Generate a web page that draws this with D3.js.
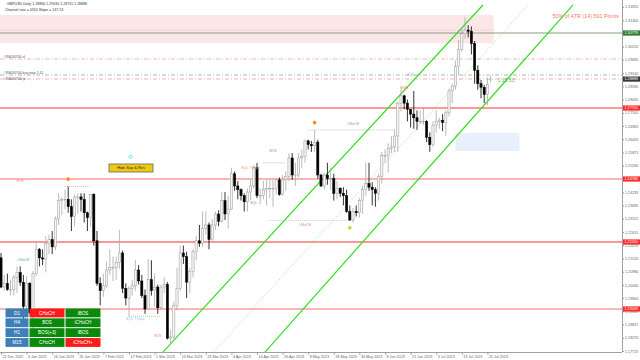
<!DOCTYPE html>
<html><head><meta charset="utf-8">
<script src="https://cdn.jsdelivr.net/npm/d3@7"></script>
<style>body{margin:0;background:#fff}svg{display:block}text{font-family:"Liberation Sans",Arial,sans-serif}</style>
</head><body><svg id="c" width="640" height="360"></svg>
<script>
// ---- data ----
const dateLabels=["22 Dec 2022","4 Jan 2023","16 Jan 2023","26 Jan 2023","7 Feb 2023","17 Feb 2023","1 Mar 2023","13 Mar 2023","23 Mar 2023","4 Apr 2023","14 Apr 2023","26 Apr 2023","8 May 2023","18 May 2023","30 May 2023","9 Jun 2023","21 Jun 2023","3 Jul 2023","13 Jul 2023","25 Jul 2023"];
const priceTicks=[1.17725,1.18270,1.18815,1.19355,1.19900,1.20440,1.20980,1.21520,1.22070,1.22615,1.23155,1.23695,1.24235,1.24790,1.25330,1.25875,1.26420,1.26965,1.27505,1.28045,1.28585,1.29140,1.29685,1.30220,1.30760,1.31300,1.31855];
const open=[1.2155,1.2035,1.2050,1.2025,1.2025,1.2075,1.2095,1.2055,1.1955,1.2050,1.1930,1.2090,1.2190,1.2155,1.2150,1.2215,1.2230,1.2200,1.2315,1.2390,1.2395,1.2395,1.2365,1.2325,1.2405,1.2405,1.2395,1.2340,1.2320,1.2415,1.2225,1.2050,1.2020,1.2040,1.2105,1.2115,1.2115,1.2135,1.2175,1.2030,1.1990,1.2030,1.2040,1.2105,1.2060,1.2000,1.1945,1.2065,1.2020,1.2035,1.1950,1.2035,1.2045,1.1825,1.1830,1.1960,1.2030,1.2175,1.2160,1.2055,1.2100,1.2180,1.2225,1.2215,1.2275,1.2290,1.2230,1.2290,1.2335,1.2305,1.2390,1.2335,1.2355,1.2500,1.2450,1.2435,1.2410,1.2385,1.2425,1.2450,1.2525,1.2410,1.2410,1.2435,1.2440,1.2440,1.2440,1.2475,1.2415,1.2475,1.2490,1.2565,1.2495,1.2495,1.2565,1.2570,1.2635,1.2620,1.2615,1.2630,1.2495,1.2450,1.2495,1.2480,1.2480,1.2420,1.2440,1.2420,1.2410,1.2345,1.2310,1.2345,1.2340,1.2390,1.2435,1.2460,1.2445,1.2435,1.2420,1.2490,1.2575,1.2575,1.2605,1.2610,1.2655,1.2790,1.2820,1.2790,1.2765,1.2745,1.2730,1.2715,1.2715,1.2715,1.2650,1.2620,1.2700,1.2715,1.2720,1.2710,1.2750,1.2840,1.2860,1.2940,1.3010,1.3075,1.3090,1.3085,1.3035,1.2925,1.2870,1.2855,1.2825,1.28866];
const high=[1.2175,1.2085,1.2090,1.2065,1.2085,1.2120,1.2120,1.2085,1.2080,1.2055,1.2100,1.2215,1.2195,1.2190,1.2245,1.2250,1.2265,1.2325,1.2420,1.2405,1.2435,1.2448,1.2395,1.2415,1.2420,1.2420,1.2420,1.2345,1.2418,1.2420,1.2265,1.2075,1.2090,1.2140,1.2190,1.2160,1.2160,1.2270,1.2185,1.2050,1.2040,1.2065,1.2145,1.2125,1.2085,1.2025,1.2150,1.2145,1.2090,1.2045,1.2045,1.2075,1.2055,1.1860,1.1975,1.2115,1.2205,1.2205,1.2180,1.2115,1.2190,1.2245,1.2290,1.2345,1.2345,1.2300,1.2315,1.2345,1.2350,1.2425,1.2425,1.2410,1.2525,1.2510,1.2470,1.2440,1.2420,1.2440,1.2475,1.2535,1.2545,1.2440,1.2470,1.2475,1.2475,1.2475,1.2480,1.2485,1.2495,1.2510,1.2585,1.2585,1.2545,1.2585,1.2600,1.2640,1.2640,1.2635,1.2680,1.2640,1.2500,1.2505,1.2545,1.2525,1.2500,1.2470,1.2445,1.2445,1.2435,1.2370,1.2360,1.2370,1.2400,1.2450,1.2545,1.2545,1.2465,1.2445,1.2500,1.2590,1.2600,1.2625,1.2655,1.2680,1.2795,1.2850,1.2825,1.2805,1.2765,1.2840,1.2760,1.2760,1.2770,1.2720,1.2670,1.2715,1.2760,1.2730,1.2745,1.2760,1.2850,1.2870,1.2965,1.3050,1.3100,1.3143,1.3110,1.3105,1.3045,1.2945,1.2885,1.2865,1.2895,1.29030];
const low=[1.2030,1.2020,1.2020,1.2000,1.2000,1.2010,1.2040,1.1900,1.1940,1.1925,1.1840,1.2080,1.2120,1.2125,1.2095,1.2170,1.2170,1.2185,1.2290,1.2330,1.2355,1.2340,1.2265,1.2285,1.2335,1.2345,1.2300,1.2265,1.2285,1.2205,1.2040,1.1960,1.1995,1.2030,1.2085,1.2060,1.2065,1.2110,1.2010,1.1960,1.1915,1.2000,1.2020,1.2045,1.1990,1.1925,1.1940,1.2000,1.1955,1.1925,1.1940,1.2010,1.1820,1.1802,1.1820,1.1940,1.2020,1.2130,1.1990,1.2010,1.2075,1.2145,1.2200,1.2200,1.2250,1.2190,1.2225,1.2270,1.2285,1.2300,1.2310,1.2275,1.2350,1.2430,1.2395,1.2390,1.2345,1.2345,1.2390,1.2440,1.2400,1.2375,1.2395,1.2370,1.2400,1.2365,1.2415,1.2410,1.2410,1.2430,1.2470,1.2475,1.2450,1.2485,1.2525,1.2545,1.2600,1.2590,1.2590,1.2480,1.2445,1.2435,1.2455,1.2435,1.2390,1.2395,1.2405,1.2370,1.2340,1.2308,1.2300,1.2325,1.2320,1.2335,1.2410,1.2430,1.2370,1.2365,1.2390,1.2460,1.2545,1.2505,1.2585,1.2590,1.2590,1.2755,1.2765,1.2715,1.2690,1.2685,1.2680,1.2705,1.2700,1.2630,1.2590,1.2610,1.2670,1.2685,1.2675,1.2655,1.2735,1.2790,1.2845,1.2905,1.3000,1.3055,1.3060,1.2990,1.2870,1.2845,1.2810,1.2790,1.2780,1.28755];
const close=[1.2035,1.2050,1.2025,1.2025,1.2075,1.2095,1.2055,1.1955,1.2050,1.1930,1.2090,1.2190,1.2155,1.2150,1.2215,1.2230,1.2200,1.2315,1.2390,1.2395,1.2395,1.2365,1.2325,1.2405,1.2405,1.2395,1.2340,1.2320,1.2415,1.2225,1.2050,1.2020,1.2040,1.2105,1.2115,1.2115,1.2135,1.2175,1.2030,1.1990,1.2030,1.2040,1.2105,1.2060,1.2000,1.1945,1.2065,1.2020,1.2035,1.1950,1.2035,1.2045,1.1825,1.1830,1.1960,1.2030,1.2175,1.2160,1.2055,1.2100,1.2180,1.2225,1.2215,1.2275,1.2290,1.2230,1.2290,1.2335,1.2305,1.2390,1.2335,1.2355,1.2500,1.2450,1.2435,1.2410,1.2385,1.2425,1.2450,1.2525,1.2410,1.2410,1.2435,1.2440,1.2440,1.2440,1.2475,1.2415,1.2475,1.2490,1.2565,1.2495,1.2495,1.2565,1.2570,1.2635,1.2620,1.2615,1.2630,1.2495,1.2450,1.2495,1.2480,1.2480,1.2420,1.2440,1.2420,1.2410,1.2345,1.2310,1.2345,1.2340,1.2390,1.2435,1.2460,1.2445,1.2435,1.2420,1.2490,1.2575,1.2575,1.2605,1.2610,1.2655,1.2790,1.2820,1.2790,1.2765,1.2745,1.2730,1.2715,1.2715,1.2715,1.2650,1.2620,1.2700,1.2715,1.2720,1.2710,1.2750,1.2840,1.2860,1.2940,1.3010,1.3075,1.3090,1.3085,1.3035,1.2925,1.2870,1.2855,1.2825,1.2866,1.28888];
const srLevels=[1.27700,1.24786,1.22200,1.19449];
const srStrong=[true,false,true,false];
const targetLevel=1.30779;
const lastPrice=1.28888;
const zoneTop=1.3152, zoneBottom=1.30369;
const fvgTop=1.26674, fvgBottom=1.25935;
const orderLevels=[{name:"#94634704 sl",price:1.29712,color:"#f4a0a0"},{name:"#94634704 buy stop 1.41",price:1.29055,color:"#9aa89a"},{name:"#94634704 tp",price:1.28891,color:"#f4a0a0"}];
// channel lines: [start bar, start price], [end bar, end price]
const channelUpper=[[50.6,1.1768],[150.6,1.3193]];
const channelMiddle=[[66.5,1.1768],[164.7,1.3193]];
const channelLower=[[82.5,1.1768],[178.75,1.3193]];
const tableRows=["D1","H4","H1","M15"];
const tableCol2=["CHoCH","BOS","BOS(+3)","CHoCH"];
const tableCol3=["iBOS","iCHoCH","iBOS","iCHoCH+"];
const tableCol2Bull=[false,true,true,true];
const tableCol3Bull=[true,true,true,false];

// ---- chart ----
const svg=d3.select("#c");
const n=close.length;
const plotR=622, plotB=352;
const x=d3.scaleBand().domain(d3.range(n)).range([-0.6,-0.6+3.2*n]);
const cx=i=>x(i)+x.bandwidth()/2;
const xi=d3.scaleLinear().domain([0,n-1]).range([cx(0),cx(n-1)]);
const y=d3.scaleLinear().domain([1.17725,1.31855]).range([351,6.8]);
const FS=3.7;

svg.append("defs").append("clipPath").attr("id","pc").append("rect").attr("x",0).attr("y",0).attr("width",plotR).attr("height",plotB);
const g=svg.append("g").attr("clip-path","url(#pc)");

// zone
g.append("rect").attr("x",0).attr("width",cx(n-1)+3).attr("y",y(zoneTop)).attr("height",y(zoneBottom)-y(zoneTop)).attr("fill","#fbe6e8");
g.append("line").attr("x1",0).attr("x2",cx(n-1)+3).attr("y1",y(1.3090)).attr("y2",y(1.3090)).attr("stroke","#f3a0a8").attr("stroke-width",0.7).attr("stroke-dasharray","1,1.5");
// light blue box
g.append("rect").attr("x",xi(142)).attr("width",xi(162)-xi(142)).attr("y",y(fvgTop)).attr("height",y(fvgBottom)-y(fvgTop)).attr("fill","#e8f0fb");

// target level
g.append("line").attr("x1",0).attr("x2",plotR).attr("y1",y(targetLevel)).attr("y2",y(targetLevel)).attr("stroke","#8c9a82").attr("stroke-width",1);
// order lines
orderLevels.forEach((o,k)=>{
  g.append("line").attr("x1",0).attr("x2",plotR).attr("y1",y(o.price)).attr("y2",y(o.price)).attr("stroke",o.color).attr("stroke-width",0.8).attr("stroke-dasharray","4,2,1,2");
  g.append("text").attr("x",4).attr("y",y(o.price)-1.2+(k==2?2.6:0)).attr("font-size",3.5).attr("fill","#555").text(o.name);
});
// sr levels
srLevels.forEach((p,k)=>{
  g.append("line").attr("x1",0).attr("x2",plotR).attr("y1",y(p)).attr("y2",y(p)).attr("stroke",srStrong[k]?"#ff3030":"#ff6a6a").attr("stroke-width",1);
});

// channel
const seg=(c)=>[[xi(c[0][0]),y(c[0][1])],[xi(c[1][0]),y(c[1][1])]];
[channelUpper,channelLower].forEach(c=>{
  const p=seg(c);
  g.append("line").attr("x1",p[0][0]).attr("y1",p[0][1]).attr("x2",p[1][0]).attr("y2",p[1][1]).attr("stroke","#33dd22").attr("stroke-width",1.2);
});
{const p=seg(channelMiddle);
g.append("line").attr("x1",p[0][0]).attr("y1",p[0][1]).attr("x2",p[1][0]).attr("y2",p[1][1]).attr("stroke","#66dd55").attr("stroke-width",0.6).attr("stroke-dasharray","1,1.5");}

// structure dotted lines
const dots=[[82,89,1.2545],[96,124,1.2680],[84,108,1.2308],[40,50,1.1915],[20,28,1.2448]];
dots.forEach(d=>g.append("line").attr("x1",xi(d[0])).attr("x2",xi(d[1])).attr("y1",y(d[2])).attr("y2",y(d[2])).attr("stroke","#99a8a0").attr("stroke-width",0.6).attr("stroke-dasharray","1,1"));

// candles
const idx=d3.range(n);
const bull=i=>close[i]>=open[i];
g.selectAll(".wick").data(idx).join("line").attr("x1",cx).attr("x2",cx).attr("y1",i=>y(high[i])).attr("y2",i=>y(low[i])).attr("stroke",i=>bull(i)?"#a8a8a8":"#000").attr("stroke-width",0.8);
g.selectAll(".body").data(idx).join("rect").attr("x",i=>cx(i)-1.1).attr("width",2.2)
 .attr("y",i=>y(Math.max(open[i],close[i]))).attr("height",i=>Math.max(0.6,Math.abs(y(open[i])-y(close[i]))))
 .attr("fill",i=>bull(i)?"#f4f4f4":"#000").attr("stroke",i=>bull(i)?"#9c9c9c":"#000").attr("stroke-width",0.5);

// labels in chart
const lab=(t,xx,yy,c,fs)=>g.append("text").attr("x",xx).attr("y",yy).attr("font-size",fs||3.4).attr("fill",c).attr("text-anchor","middle").text(t);
lab("BOS",xi(6),y(1.2465),"#f08080");
lab("BOS",xi(85),y(1.2590),"#6aaaa0");
lab("CHoCH",xi(110),y(1.2700),"#6aaaa0");
lab("CHoCH",xi(95),y(1.2285),"#f08080");
lab("EQL",xi(79),y(1.2375),"#6aaaa0");
lab("CHoCH",xi(7),y(1.2140),"#6aaaa0");
lab("EQH",xi(126),y(1.2850),"#f06060");
lab("EQL 7 Days",xi(42),y(1.1900),"#88c8e0");
lab("BOS",xi(49),y(1.1830),"#f08080");
lab("EQL 7 Days",xi(78),y(1.2520),"#e0a050");
lab("BOS",xi(128),y(1.2900),"#88c8e0");
lab("1:19:53",506,y(1.2875),"#6ab06a",5);

// markers
g.append("circle").attr("cx",xi(21)).attr("cy",y(1.2478)).attr("r",1.8).attr("fill","#ff8a1a");
g.append("circle").attr("cx",xi(98)).attr("cy",y(1.2710)).attr("r",1.8).attr("fill","#ff8a1a");
g.append("circle").attr("cx",xi(109)).attr("cy",y(1.2278)).attr("r",1.8).attr("fill","#b8e020");
g.append("circle").attr("cx",xi(40.5)).attr("cy",y(1.2570)).attr("r",1.6).attr("fill","none").attr("stroke","#20e0f0").attr("stroke-width",0.7);

// ATR text
svg.append("text").attr("x",619).attr("y",18).attr("text-anchor","end").attr("font-size",5.4).attr("fill","#f47a66").text("50% of ATR (14) 591 Points");

// header
svg.append("text").attr("x",7).attr("y",5).attr("font-size",3.6).attr("fill","#333").text("GBPUSD,Daily  1.28866 1.29030 1.28755 1.28888");
svg.append("text").attr("x",5).attr("y",10.5).attr("font-size",3.6).attr("fill","#333").text("Channel size = 4324 Slope = 147.13");

// button
svg.append("rect").attr("x",109).attr("y",164).attr("width",44).attr("height",8).attr("fill","#f2c80f").attr("stroke","#556b6b").attr("stroke-width",0.8);
svg.append("text").attr("x",131).attr("y",169.4).attr("text-anchor","middle").attr("font-size",3.9).attr("fill","#222").text("Hide Sup & Res");

// table
const colX=[5,29,65], colW=[24,36,36], rowY0=308, rowH=9.85;
tableRows.forEach((r,k)=>{
  const yy=rowY0+k*rowH;
  const cells=[[r,"#3f7fb8"],[tableCol2[k],tableCol2Bull[k]?"#0a8a0a":"#ff1a1a"],[tableCol3[k],tableCol3Bull[k]?"#0a8a0a":"#ff1a1a"]];
  cells.forEach((c,j)=>{
    svg.append("rect").attr("x",colX[j]+0.5).attr("y",yy+0.5).attr("width",colW[j]-1).attr("height",rowH-1).attr("fill",c[1]);
    svg.append("text").attr("x",colX[j]+colW[j]/2).attr("y",yy+rowH/2+1.7).attr("text-anchor","middle").attr("font-size",4.6).attr("fill","#fff").text(c[0]);
  });
});

// axes
svg.append("line").attr("x1",plotR+0.5).attr("x2",plotR+0.5).attr("y1",0).attr("y2",plotB).attr("stroke","#a0a0a0");
svg.append("line").attr("x1",0).attr("x2",plotR).attr("y1",plotB+0.5).attr("y2",plotB+0.5).attr("stroke","#a0a0a0");
const ya=svg.append("g").attr("transform",`translate(${plotR+0.5},0)`).call(d3.axisRight(y).tickValues(priceTicks).tickSize(1.5).tickFormat(d3.format(".5f")));
ya.select(".domain").remove();
ya.selectAll("line").attr("stroke","#999");
ya.selectAll("text").attr("font-size",FS).attr("fill","#666").attr("x",2.5).attr("dy","0.32em");
const tickIdx=dateLabels.map((d,k)=>k*8);
const xa=svg.append("g").attr("transform",`translate(0,${plotB+0.5})`).call(d3.axisBottom(xi).tickValues(tickIdx).tickSize(2).tickFormat((d,k)=>dateLabels[k]));
xa.select(".domain").remove();
xa.selectAll("line").attr("stroke","#999");
xa.selectAll("text").attr("font-size",FS).attr("fill","#666").attr("text-anchor","start").attr("dx",1).attr("y",2.5);

// price labels on axis
const pLab=(p,bg,fg)=>{
  svg.append("rect").attr("x",plotR+1).attr("y",y(p)-2.6).attr("width",17).attr("height",5.2).attr("fill",bg);
  svg.append("text").attr("x",plotR+2.5).attr("y",y(p)+1.3).attr("font-size",FS).attr("fill",fg).text(p.toFixed(5));
};
srLevels.forEach(p=>pLab(p,"#ff2a2a","#fff"));
pLab(targetLevel,"#2e7d32","#fff");
pLab(lastPrice,"#3a3a3a","#fff");
</script></body></html>
